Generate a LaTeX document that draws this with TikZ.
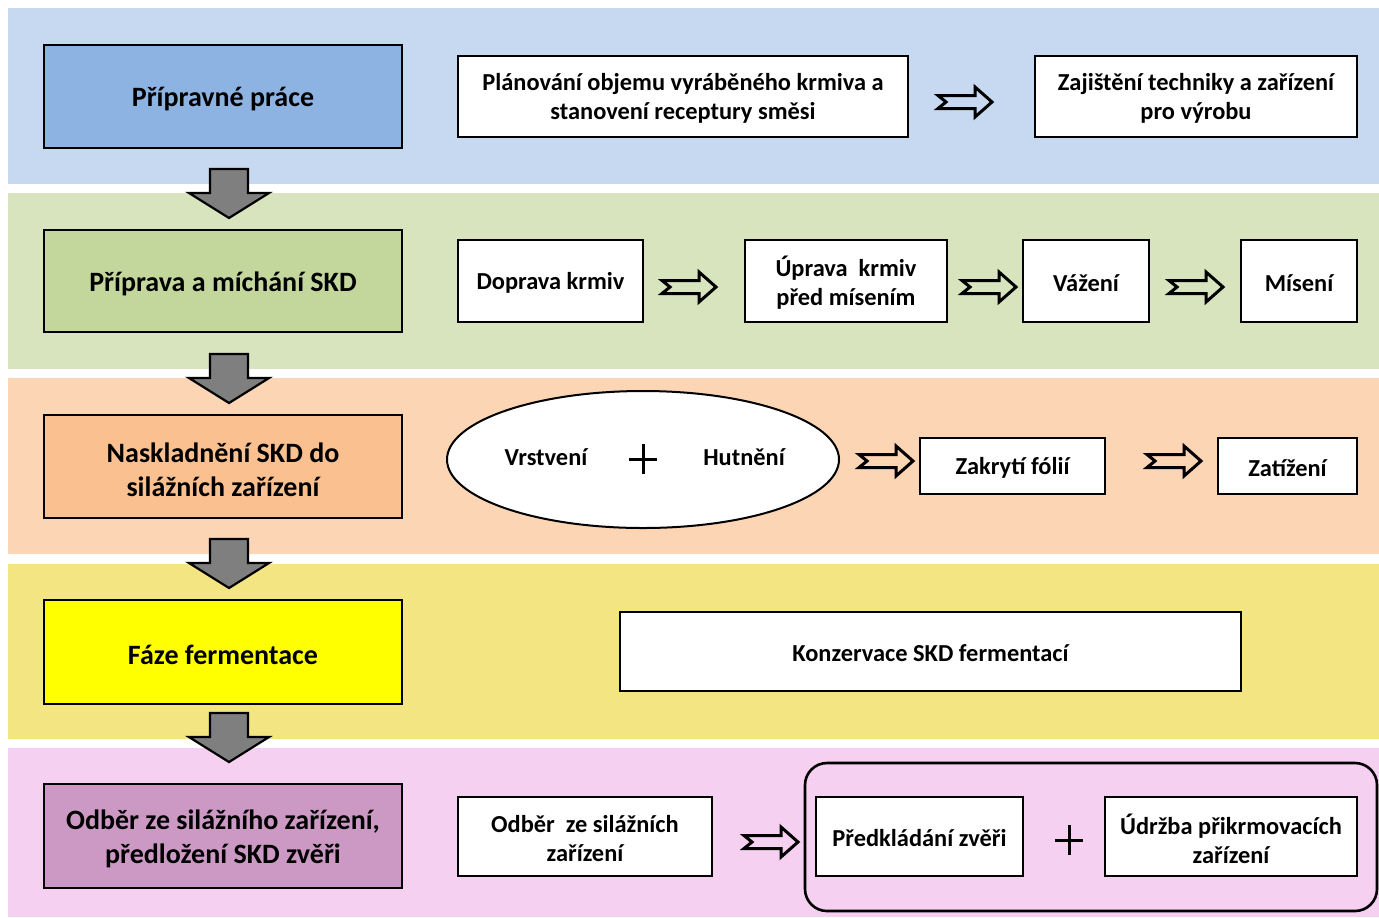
\documentclass[tikz,border=0pt]{standalone}
\usepackage{fontspec}
\setmainfont{Carlito}
\usetikzlibrary{shapes.geometric,fit}
\definecolor{bandA}{RGB}{198,217,241}
\definecolor{boxA}{RGB}{141,179,226}
\definecolor{bandB}{RGB}{215,228,189}
\definecolor{boxB}{RGB}{195,214,155}
\definecolor{bandC}{RGB}{252,213,181}
\definecolor{boxC}{RGB}{250,192,144}
\definecolor{bandD}{RGB}{243,229,130}
\definecolor{boxD}{RGB}{255,255,0}
\definecolor{bandE}{RGB}{246,208,240}
\definecolor{boxE}{RGB}{204,153,196}
\definecolor{arrgray}{RGB}{127,127,127}
\begin{document}
\begin{tikzpicture}[x=0.5pt,y=-0.5pt,
  mainbox/.style={draw=black, line width=1pt, inner sep=0pt},
  maintext/.style={font=\bfseries\fontsize{14}{17}\selectfont, align=center, text=black, yshift=-1.5pt},
  subbox/.style={draw=black, fill=white, line width=0.9pt, inner sep=0pt},
  subfont/.style={font=\bfseries\fontsize{12.2}{14.5}\selectfont, align=center, text=black},
  subtext/.style={subfont, yshift=-1pt},
  darr/.pic={\draw[fill=arrgray, line width=1.1pt, line join=miter]
     (-19,0) -- (19,0) -- (19,24) -- (40,24) -- (0,49) -- (-40,24) -- (-19,24) -- cycle;},
  rarr/.pic={\draw[line width=1.5pt, line join=miter]
     (0,-6.5) -- (37,-6.5) -- (37,-15) -- (54,0) -- (37,15) -- (37,6.5) -- (0,6.5) -- (8,0) -- cycle;},
  plus/.pic={\draw[line width=1.5pt] (-14,0) -- (14,0) (0,-15) -- (0,15);}
]
\useasboundingbox (0,0) rectangle (1379,917);
\clip (0,0) rectangle (1379,917);
\fill[white] (0,0) rectangle (1379,917);
% bands
\fill[bandA] (8,8) rectangle (1379,184);
\fill[bandB] (8,193) rectangle (1379,369);
\fill[bandC] (8,378) rectangle (1379,554);
\fill[bandD] (8,564) rectangle (1379,739);
\fill[bandE] (8,748) rectangle (1379,917);

% left boxes
\node[mainbox, fill=boxA, fit={(44,45)(402,148)}] (m1) {};
\node[maintext] at (m1) {Přípravné práce};
\node[mainbox, fill=boxB, fit={(44,230)(402,332)}] (m2) {};
\node[maintext] at (m2) {Příprava a míchání SKD};
\node[mainbox, fill=boxC, fit={(44,415)(402,518)}] (m3) {};
\node[maintext] at (m3) {Naskladnění SKD do\\silážních zařízení};
\node[mainbox, fill=boxD, fit={(44,600)(402,704)}] (m4) {};
\node[maintext] at (m4) {Fáze fermentace};
\node[mainbox, fill=boxE, fit={(44,784)(402,888)}] (m5) {};
\node[maintext] at (m5) {Odběr ze silážního zařízení,\\předložení SKD zvěři};

% down arrows
\pic at (229,169) {darr};
\pic at (229,354) {darr};
\pic at (229,539) {darr};
\pic at (229,713) {darr};

% row 1
\node[subbox, fit={(458,56)(908,137)}] (a1) {};
\node[subtext] at (a1) {Plánování objemu vyráběného krmiva a\\stanovení receptury směsi};
\node[subbox, fit={(1035,56)(1357,137)}] (a2) {};
\node[subtext] at (a2) {Zajištění techniky a zařízení\\pro výrobu};
\pic at (938,102) {rarr};

% row 2
\node[subbox, fit={(458,240)(643,322)}] (b1) {};
\node[subtext] at (b1) {Doprava krmiv};
\node[subbox, fit={(745,240)(947,322)}] (b2) {};
\node[subtext] at (b2) {Úprava\ \ krmiv\\před mísením};
\node[subbox, fit={(1023,240)(1149,322)}] (b3) {};
\node[subtext] at (b3) {Vážení};
\node[subbox, fit={(1241,240)(1357,322)}] (b4) {};
\node[subtext] at (b4) {Mísení};
\pic at (662,287) {rarr};
\pic at (962,287) {rarr};
\pic at (1169,287) {rarr};

% row 3
\node[ellipse, draw=black, fill=white, line width=1pt, minimum width=196pt, minimum height=68.5pt, inner sep=0pt] (e1) at (643,459.5) {};
\node[subfont] (e1a) at (546,457) {Vrstvení};
\node[subfont] (e1b) at (744,457) {Hutnění};
\pic at (643,459) {plus};
\node[subbox, fit={(920,438)(1105,494)}] (c1) {};
\node[subtext] at (c1) {Zakrytí fólií};
\node[subbox, fit={(1218,438)(1357,494)}] (c2) {};
\node[subtext] at (c2) {Zatížení};
\pic at (859,461) {rarr};
\pic at (1147,461) {rarr};

% row 4
\node[subbox, fit={(620,612)(1241,691)}] (d1) {};
\node[subtext] at (d1) {Konzervace SKD fermentací};

% row 5
\node[subbox, fit={(458,797)(712,876)}] (f1) {};
\node[subtext] at (f1) {Odběr\ \ ze silážních\\zařízení};
\draw[line width=1.3pt, rounded corners=11pt] (805,763) rectangle (1377,911);
\node[subbox, fit={(816,797)(1023,876)}] (f2) {};
\node[subtext] at (f2) {Předkládání zvěři};
\node[subbox, fit={(1105,797)(1357,876)}] (f3) {};
\node[subtext] at (f3) {Údržba přikrmovacích\\zařízení};
\pic at (1069,840) {plus};
\pic at (744,842) {rarr};
\end{tikzpicture}
\end{document}
